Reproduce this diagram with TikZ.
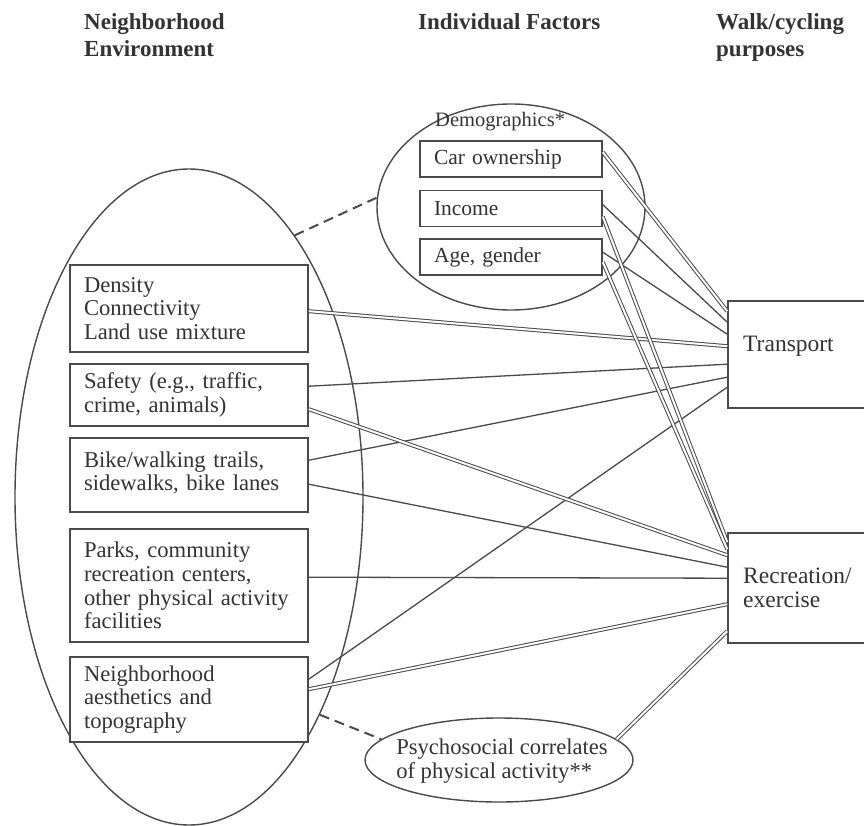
\documentclass[tikz,border=0pt]{standalone}
\usepackage{fontspec}
\setmainfont{Liberation Serif}
\usetikzlibrary{shapes.geometric}
\definecolor{ln}{HTML}{4A4A4A}
\definecolor{tx}{HTML}{333333}
\begin{document}
\begin{tikzpicture}[x=1pt,y=-1pt,
  every node/.style={text=tx},
  bodyfont/.style={font=\fontsize{22.6}{23.8}\selectfont},
  titlefont/.style={font=\fontsize{23}{27}\selectfont\bfseries},
  envbox/.style={draw=ln, line width=1.6pt, fill=white, minimum width=238pt,
    text width=210pt, align=left, inner sep=0pt, bodyfont},
  demobox/.style={draw=ln, line width=1.6pt, fill=white, minimum width=182pt,
    minimum height=36pt, text width=154pt, align=left, inner sep=0pt,
    font=\fontsize{21.5}{23.5}\selectfont},
  purpbox/.style={draw=ln, line width=1.6pt, fill=white, minimum width=200pt, inner sep=0pt},
  purpfont/.style={font=\fontsize{23.5}{24}\selectfont},
  oval/.style={draw=ln, line width=1.4pt, ellipse, inner sep=0pt},
  sgl/.style={draw=ln, line width=1.3pt},
  dbl/.style={draw=ln, double=white, line width=1pt, double distance=2pt},
  dsh/.style={draw=ln, line width=2pt, dash pattern=on 10pt off 6pt}
]
\useasboundingbox (0,0) rectangle (864,826);
\clip (0,0) rectangle (864,826);
\fill[white] (0,0) rectangle (864,826);

% titles
\node[titlefont, align=left, anchor=north west, inner sep=0pt] (tenv) at (84,13) {Neighborhood\\Environment};
\node[titlefont, align=left, anchor=north west, inner sep=0pt] (tind) at (418,13) {Individual Factors};
\node[titlefont, align=left, anchor=north west, inner sep=0pt] (tpur) at (716,13) {Walk/cycling\\purposes};

% ovals
\node[oval, minimum width=348pt, minimum height=656pt] (env) at (189,497) {};
\node[oval, minimum width=268pt, minimum height=206pt] (demo) at (511,207) {};
\node[oval, minimum width=268pt, minimum height=84pt] (psych) at (499,760) {};
\node[bodyfont, align=left, inner sep=0pt] (psychtext) at (502,761) {Psychosocial correlates\\of physical activity**};

% dashed links
\draw[dsh] (env.68) -- (demo.176);
\draw[dsh] (env.-59) -- (psych.170);

% demographics
\node[anchor=west, inner sep=0pt, font=\fontsize{20.5}{22}\selectfont] (demotitle) at (435,122) {Demographics*};
\node[demobox] (car) at (511,159) {Car ownership};
\node[demobox] (income) at (511,208.5) {Income};
\node[demobox] (age) at (511,257) {Age, gender};

% environment boxes
\node[envbox, minimum height=87pt] (dens) at (189,308.5) {Density\\Connectivity\\Land use mixture};
\node[envbox, minimum height=62pt] (safe) at (189,395) {Safety (e.g., traffic,\\crime, animals)};
\node[envbox, minimum height=74pt] (bike) at (189,475) {Bike/walking trails,\\sidewalks, bike lanes\\[-16pt]\mbox{}};
\node[envbox, minimum height=113pt] (park) at (189,585.5) {Parks, community\\recreation centers,\\other physical activity\\facilities};
\node[envbox, minimum height=85pt] (aest) at (189,699.5) {Neighborhood\\aesthetics and\\topography};

% purposes
\node[purpbox, minimum height=107pt] (trans) at (828,354.5) {};
\node[purpfont, anchor=west, inner sep=0pt] (transtext) at (743,346) {Transport};
\node[purpbox, minimum height=110pt] (recr) at (828,588) {};
\node[purpfont, anchor=west, align=left, inner sep=0pt] (recrtext) at (743,588) {Recreation/\\exercise};

% single connectors
\draw[sgl] ([yshift=-15pt]income.north east) -- ([yshift=-22pt]trans.north west);
\draw[sgl] ([yshift=-14pt]age.north east) -- ([yshift=-34pt]trans.north west);
\draw[sgl] ([yshift=-23pt]safe.north east) -- ([yshift=-64pt]trans.north west);
\draw[sgl] ([yshift=-23pt]bike.north east) -- ([yshift=-77pt]trans.north west);
\draw[sgl] ([yshift=-47pt]bike.north east) -- ([yshift=-35pt]recr.north west);
\draw[sgl] ([yshift=-49pt]park.north east) -- ([yshift=-46pt]recr.north west);
\draw[sgl] ([yshift=-23pt]aest.north east) -- ([yshift=-87pt]trans.north west);

% double connectors
\draw[dbl] ([yshift=-12pt]car.north east) -- ([yshift=-11pt]trans.north west);
\draw[dbl] ([yshift=-47pt]dens.north east) -- ([yshift=-46pt]trans.north west);
\draw[dbl] ([yshift=-46pt]safe.north east) -- ([yshift=-23pt]recr.north west);
\draw[dbl] ([yshift=-27pt]income.north east) -- ([yshift=-10pt]recr.north west);
\draw[dbl] ([yshift=-24pt]age.north east) -- ([yshift=-17pt]recr.north west);
\draw[dbl] ([yshift=-33pt]aest.north east) -- ([yshift=-72pt]recr.north west);
\draw[dbl] (psych.10) -- ([yshift=-99pt]recr.north west);
\end{tikzpicture}
\end{document}
